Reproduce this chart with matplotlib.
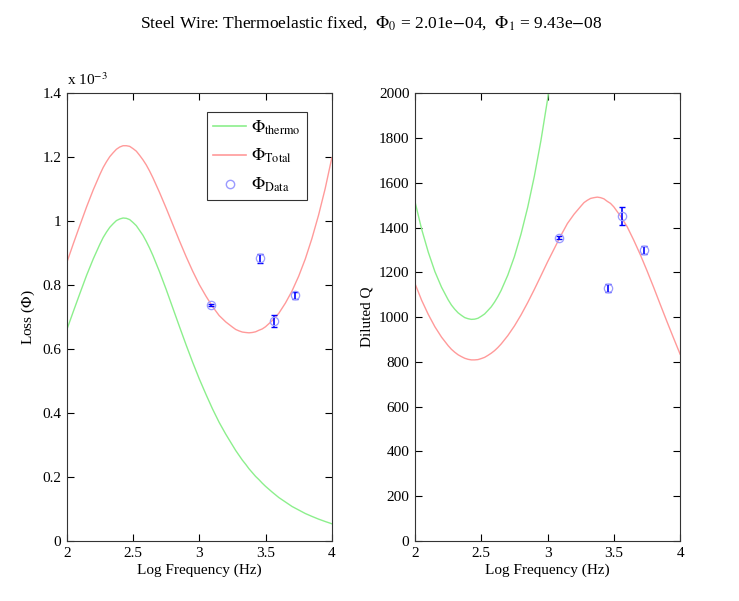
import matplotlib
matplotlib.use("Agg")
import matplotlib.pyplot as plt
import numpy as np
from matplotlib.lines import Line2D

plt.rcParams["font.family"] = ["Liberation Serif", "DejaVu Serif"]
plt.rcParams["mathtext.fontset"] = "stix"
plt.rcParams["font.size"] = 11

# log10 of frequency grid for the model curves (denser near the extrema)
log_f = [2.00, 2.05, 2.10, 2.15, 2.20, 2.25,
         2.275, 2.30, 2.325, 2.35, 2.375, 2.40, 2.425, 2.45, 2.475, 2.50,
         2.525, 2.55, 2.575, 2.60, 2.625,
         2.65, 2.70, 2.75, 2.80, 2.85, 2.90, 2.95, 3.00, 3.05, 3.10, 3.15, 3.20, 3.25,
         3.275, 3.30, 3.325, 3.35, 3.375, 3.40, 3.425, 3.45, 3.475,
         3.50, 3.55, 3.60, 3.65, 3.70, 3.75, 3.80, 3.85, 3.90, 3.95, 4.00]

# thermoelastic loss (units of 1e-3)
phi_thermo = [0.660, 0.718, 0.775, 0.831, 0.882, 0.928,
              0.949, 0.966, 0.981, 0.992, 1.002, 1.007, 1.010, 1.009, 1.005, 0.996,
              0.986, 0.971, 0.956, 0.937, 0.916,
              0.893, 0.842, 0.787, 0.729, 0.671, 0.614, 0.559, 0.507, 0.459, 0.413,
              0.371, 0.334, 0.300,
              0.283, 0.268, 0.253, 0.240, 0.226, 0.214, 0.202, 0.192, 0.181,
              0.171, 0.153, 0.136, 0.122, 0.108, 0.097, 0.086, 0.077, 0.0685, 0.061, 0.054]

# total loss (units of 1e-3)
phi_total = [0.870, 0.930, 0.988, 1.045, 1.098, 1.146,
             1.168, 1.186, 1.202, 1.214, 1.225, 1.232, 1.236, 1.236, 1.234, 1.227,
             1.219, 1.206, 1.192, 1.176, 1.157,
             1.136, 1.090, 1.041, 0.990, 0.939, 0.890, 0.844, 0.802, 0.766, 0.733,
             0.705, 0.685, 0.669,
             0.6615, 0.657, 0.6534, 0.652, 0.651, 0.652, 0.6542, 0.659, 0.6631,
             0.670, 0.689, 0.712, 0.744, 0.782, 0.828, 0.882, 0.946, 1.019, 1.102, 1.198]

# measured points
data_log_f = [3.087, 3.458, 3.563, 3.726]
data_phi = [0.738, 0.884, 0.689, 0.769]
data_err = [0.004, 0.014, 0.019, 0.011]

x = np.array(log_f)
th = np.array(phi_thermo)
tot = np.array(phi_total)
dx = np.array(data_log_f)
dp = np.array(data_phi)
de = np.array(data_err)

# Q = 1/phi, phi stored in 1e-3 units
q_thermo = 1000.0 / th
q_total = 1000.0 / tot
q_data = 1000.0 / dp
q_err = 1000.0 * de / dp ** 2

green = "#8cef8c"
red = "#ff9a9a"
circ = "#9a9aff"

fig = plt.figure(figsize=(7.39, 6.01), dpi=100)
ax1 = fig.add_axes([0.0903, 0.0998, 0.3587, 0.745])
ax2 = fig.add_axes([0.5616, 0.0998, 0.3587, 0.745])

fig.text(0.502, 0.962,
         r"Steel Wire: Thermoelastic fixed,  $\Phi_0$ = 2.01e$-$04,  $\Phi_1$ = 9.43e$-$08",
         ha="center", va="center", fontsize=12.5)


def style(ax):
    ax.set_xlim(2, 4)
    ax.set_xticks([2, 2.5, 3, 3.5, 4])
    ax.set_xticklabels(["2", "2.5", "3", "3.5", "4"])
    ax.tick_params(direction="in", top=True, right=True, length=5, width=0.8,
                   labelsize=11, pad=4)
    for s in ax.spines.values():
        s.set_linewidth(0.8)
        s.set_color("#333333")
    ax.set_xlabel("Log Frequency (Hz)", fontsize=11, labelpad=3)


# left panel: loss
ax1.plot(x, th, color=green, lw=1.0)
ax1.plot(x, tot, color=red, lw=1.0)
ax1.errorbar(dx, dp, yerr=de, fmt="none", ecolor="blue", elinewidth=1.2,
             capsize=2, capthick=1.0)
ax1.plot(dx, dp, "o", mfc="none", mec=circ, ms=6, mew=0.9)
ax1.set_ylim(0, 1.4)
ax1.set_yticks([0, 0.2, 0.4, 0.6, 0.8, 1.0, 1.2, 1.4])
ax1.set_yticklabels(["0", "0.2", "0.4", "0.6", "0.8", "1", "1.2", "1.4"])
ax1.set_ylabel(r"Loss ($\Phi$)", fontsize=11, labelpad=4)
ax1.text(0.0, 1.012, r"x 10$^{-3}$", transform=ax1.transAxes,
         ha="left", va="bottom", fontsize=11)
style(ax1)

handles = [Line2D([], [], color=green, lw=1.2),
           Line2D([], [], color=red, lw=1.2),
           Line2D([], [], ls="none", marker="o", mfc="none", mec=circ, ms=6)]
labels = [r"$\Phi_{\rm thermo}$", r"$\Phi_{\rm Total}$", r"$\Phi_{\rm Data}$"]
leg = ax1.legend(handles, labels, loc="upper right", bbox_to_anchor=(0.907, 0.958),
                 fontsize=12.5, frameon=True, fancybox=False, edgecolor="black",
                 handlelength=1.9, borderpad=0.35, labelspacing=0.6, handletextpad=0.3,
                 borderaxespad=0.0)
leg.get_frame().set_linewidth(0.8)

# right panel: diluted Q
ax2.plot(x, q_thermo, color=green, lw=1.0)
ax2.plot(x, q_total, color=red, lw=1.0)
ax2.errorbar(dx, q_data, yerr=q_err, fmt="none", ecolor="blue", elinewidth=1.2,
             capsize=2, capthick=1.0)
ax2.plot(dx, q_data, "o", mfc="none", mec=circ, ms=6, mew=0.9)
ax2.set_ylim(0, 2000)
ax2.set_yticks(np.arange(0, 2001, 200))
ax2.set_ylabel("Diluted Q", fontsize=11, labelpad=4)
style(ax2)

fig.savefig("out.png", dpi=100)
